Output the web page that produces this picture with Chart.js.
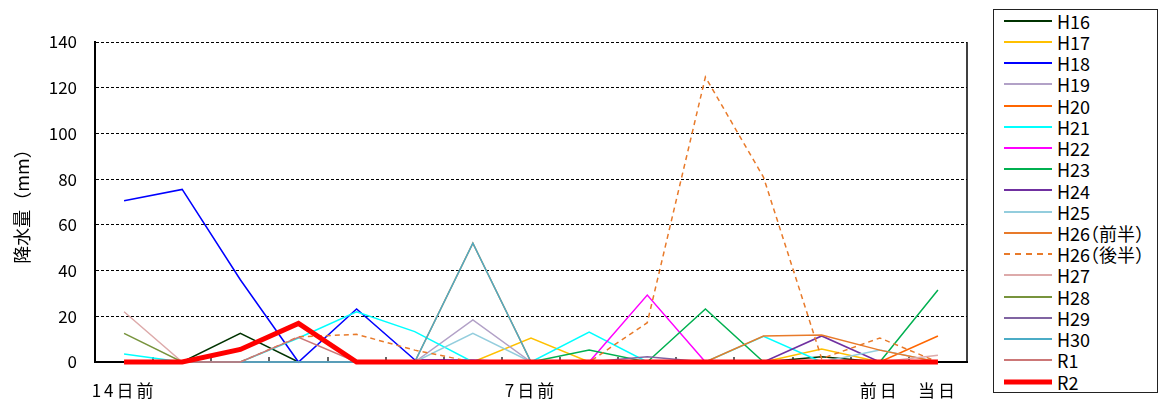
<!DOCTYPE html>
<html>
<head>
<meta charset="utf-8">
<script src="https://cdn.jsdelivr.net/npm/chart.js@4"></script>
<style>
  body { margin: 0; background: #fff; font-family: "Noto Sans CJK JP", sans-serif; }
  #wrap { position: absolute; left: 0; top: 0; width: 975px; height: 405px; }
  #legend {
    position: absolute; left: 993px; top: 9px; width: 165px; height: 384px;
    border: 1.5px solid #222; box-sizing: border-box; padding-top: 0;
  }
  .row {
    display: flex; align-items: center; height: 21.24px; font-size: 18px; color: #000;
    font-feature-settings: "halt";
  }
  .row svg { margin-left: 10px; margin-right: 5px; flex: none; }
</style>
</head>
<body>
<div id="wrap"><canvas id="rain-chart"></canvas></div>
<div id="legend"></div>
<script>
// 14 days before -> the day itself
const days = ['14日前', '', '', '', '', '', '', '7日前', '', '', '', '', '', '前日', '当日'];

const h16 = [0, 0, 12.5, 0, 0, 0, 0, 0, 0, 0, 0, 0, 2.3, 0, 0];
const h17 = [0, 0, 0, 0, 0, 0, 0, 10.5, 0, 0, 0, 0, 5.7, 0, 0];
const h18 = [70.5, 75.5, 36, 0, 23.2, 1, 0.8, 0, 0, 0, 0, 0, 0, 0, 0];
const h19 = [0, 0, 0, 0, 0, 0, 18.4, 0, 0, 0, 0, 0, 0, 0, 0];
const h20 = [0, 0, 0, 0, 0, 0, 0, 0, 0, 0, 0, 0, 0, 0, 11.4];
const h21 = [3.5, 0, 0, 10.5, 22, 13.3, 0, 0, 13.1, 0, 0, 11.2, 0, 0, 0];
const h22 = [0, 0, 0, 0, 0, 0, 0, 0, 0, 29.3, 0, 0, 0, 0, 0];
const h23 = [0, 0, 0, 0, 0, 0, 0, 0, 5.2, 0, 23.2, 0, 0, 0, 31.5];
const h24 = [0, 0, 0, 0, 0, 0, 0, 0, 0, 0, 0, 0, 11.4, 0, 0];
const h25 = [0, 0, 0, 0, 0, 0, 12.5, 0, 0, 0, 0, 0, 0, 5.2, 0];
const h26a = [0, 0, 0, 0, 0, 0, 52, 0, 0, 0, 0, 11.4, 11.8, 5.2, 0];
const h26b = [0, 0, 0, 11, 12.1, 5.2, 0, 0, 0, 17.2, 124.7, 80.8, 1.5, 10.5, 0];
const h27 = [22, 0, 0, 0, 0, 0, 0, 0, 0, 0, 0, 0, 0, 0, 3];
const h28 = [12.5, 0, 0, 0, 0, 0, 0, 0, 0, 0, 0, 0, 0, 0, 0];
const h29 = [0, 0, 0, 0, 0, 0, 0, 0, 0, 2.3, 0, 0, 0, 0, 0];
const h30 = [0, 0, 0, 0, 0, 0, 52, 0, 0, 0, 0, 0, 0, 0, 0];
const r1 = [0, 0, 0, 10.8, 0, 0, 0, 0, 0, 0, 0, 0, 0, 0, 0];
const r2 = [0, 0, 5.5, 16.9, 0, 0, 0, 0, 0, 0, 0, 0, 0, 0, 0];

const yTicks = [0, 20, 40, 60, 80, 100, 120, 140];

const series = [
  { label: 'H16', data: h16, color: '#003300' },
  { label: 'H17', data: h17, color: '#FFC000' },
  { label: 'H18', data: h18, color: '#0000FF' },
  { label: 'H19', data: h19, color: '#B2A1C7' },
  { label: 'H20', data: h20, color: '#FF6600' },
  { label: 'H21', data: h21, color: '#00FFFF' },
  { label: 'H22', data: h22, color: '#FF00FF' },
  { label: 'H23', data: h23, color: '#00B050' },
  { label: 'H24', data: h24, color: '#7030A0' },
  { label: 'H25', data: h25, color: '#93CDDD' },
  { label: 'H26（前半）', data: h26a, color: '#E87A2A' },
  { label: 'H26（後半）', data: h26b, color: '#E87A2A', dash: [5, 4] },
  { label: 'H27', data: h27, color: '#DDAAAA' },
  { label: 'H28', data: h28, color: '#77933C' },
  { label: 'H29', data: h29, color: '#8064A2' },
  { label: 'H30', data: h30, color: '#4BACC6' },
  { label: 'R1', data: r1, color: '#CC7777' },
  { label: 'R2', data: r2, color: '#FF0000', width: 5 },
];

const datasets = series.map((s, i) => ({
  label: s.label,
  data: s.data,
  borderColor: s.color,
  backgroundColor: s.color,
  borderWidth: s.width || 1.5,
  borderDash: s.dash || [],
  pointRadius: 0,
  tension: 0,
  clip: false,
  order: series.length - i,
}));

// inward x ticks at category boundaries, right frame line, spaced x labels
const framePlugin = {
  id: 'frame',
  afterLayout(chart) {
    const s = chart.scales.x;
    if (s._spaced) return;
    const orig = s.drawLabels.bind(s);
    s.drawLabels = (area) => {
      const prev = s.ctx.letterSpacing;
      s.ctx.letterSpacing = '3px';
      orig(area);
      s.ctx.letterSpacing = prev;
    };
    s._spaced = true;
  },
  beforeDatasetsDraw(chart) {
    const { ctx, chartArea, scales } = chart;
    const x = scales.x;
    ctx.save();
    ctx.strokeStyle = '#333';
    ctx.lineWidth = 1.5;
    for (let i = 1; i < days.length; i++) {
      const px = Math.round((x.getPixelForTick(i - 1) + x.getPixelForTick(i)) / 2);
      ctx.beginPath();
      ctx.moveTo(px, chartArea.bottom);
      ctx.lineTo(px, chartArea.bottom - 5);
      ctx.stroke();
    }
    ctx.strokeStyle = '#000';
    ctx.beginPath();
    ctx.moveTo(chartArea.right, chartArea.top);
    ctx.lineTo(chartArea.right, chartArea.bottom);
    ctx.stroke();
    ctx.restore();
  }
};

new Chart(document.getElementById('rain-chart'), {
  type: 'line',
  data: { labels: days, datasets },
  plugins: [framePlugin],
  options: {
    responsive: true,
    maintainAspectRatio: false,
    animation: false,
    layout: { padding: { top: 42, right: 8, left: 0, bottom: 0 } },
    plugins: { legend: { display: false }, tooltip: { enabled: false } },
    scales: {
      x: {
        offset: true,
        afterFit: (s) => { s.height = 43; },
        grid: { display: true, drawOnChartArea: false, drawTicks: false },
        border: { display: true, color: '#000', width: 2 },
        ticks: {
          autoSkip: false, maxRotation: 0, padding: 18, color: '#000',
          font: { family: '"Noto Sans CJK JP"', size: 17 }
        }
      },
      y: {
        min: 0, max: 140,
        afterFit: (s) => { s.width = 95; },
        afterBuildTicks: (s) => { s.ticks = yTicks.map((v) => ({ value: v })); },
        grid: { color: '#000', lineWidth: 1, drawTicks: false },
        border: { display: true, color: '#000', width: 2, dash: [3, 2] },
        ticks: {
          padding: 18, color: '#000',
          font: { family: '"Noto Sans CJK JP"', size: 17 }
        },
        title: {
          display: true, text: '降水量（mm）', color: '#000',
          padding: { top: 11, bottom: 0 },
          font: { family: '"Noto Sans CJK JP"', size: 18 }
        }
      }
    }
  }
});

// legend built from the same series
const legendEl = document.getElementById('legend');
legendEl.innerHTML = series.map((s) => `
  <div class="row">
    <svg width="48" height="8"><line x1="0" y1="4" x2="48" y2="4" stroke="${s.color}"
      stroke-width="${s.width ? 5 : 2}" ${s.dash ? 'stroke-dasharray="6,5"' : ''}
      stroke-linecap="${s.width ? 'round' : 'butt'}"/></svg>
    <span>${s.label}</span>
  </div>
`).join('');
</script>
</body>
</html>
